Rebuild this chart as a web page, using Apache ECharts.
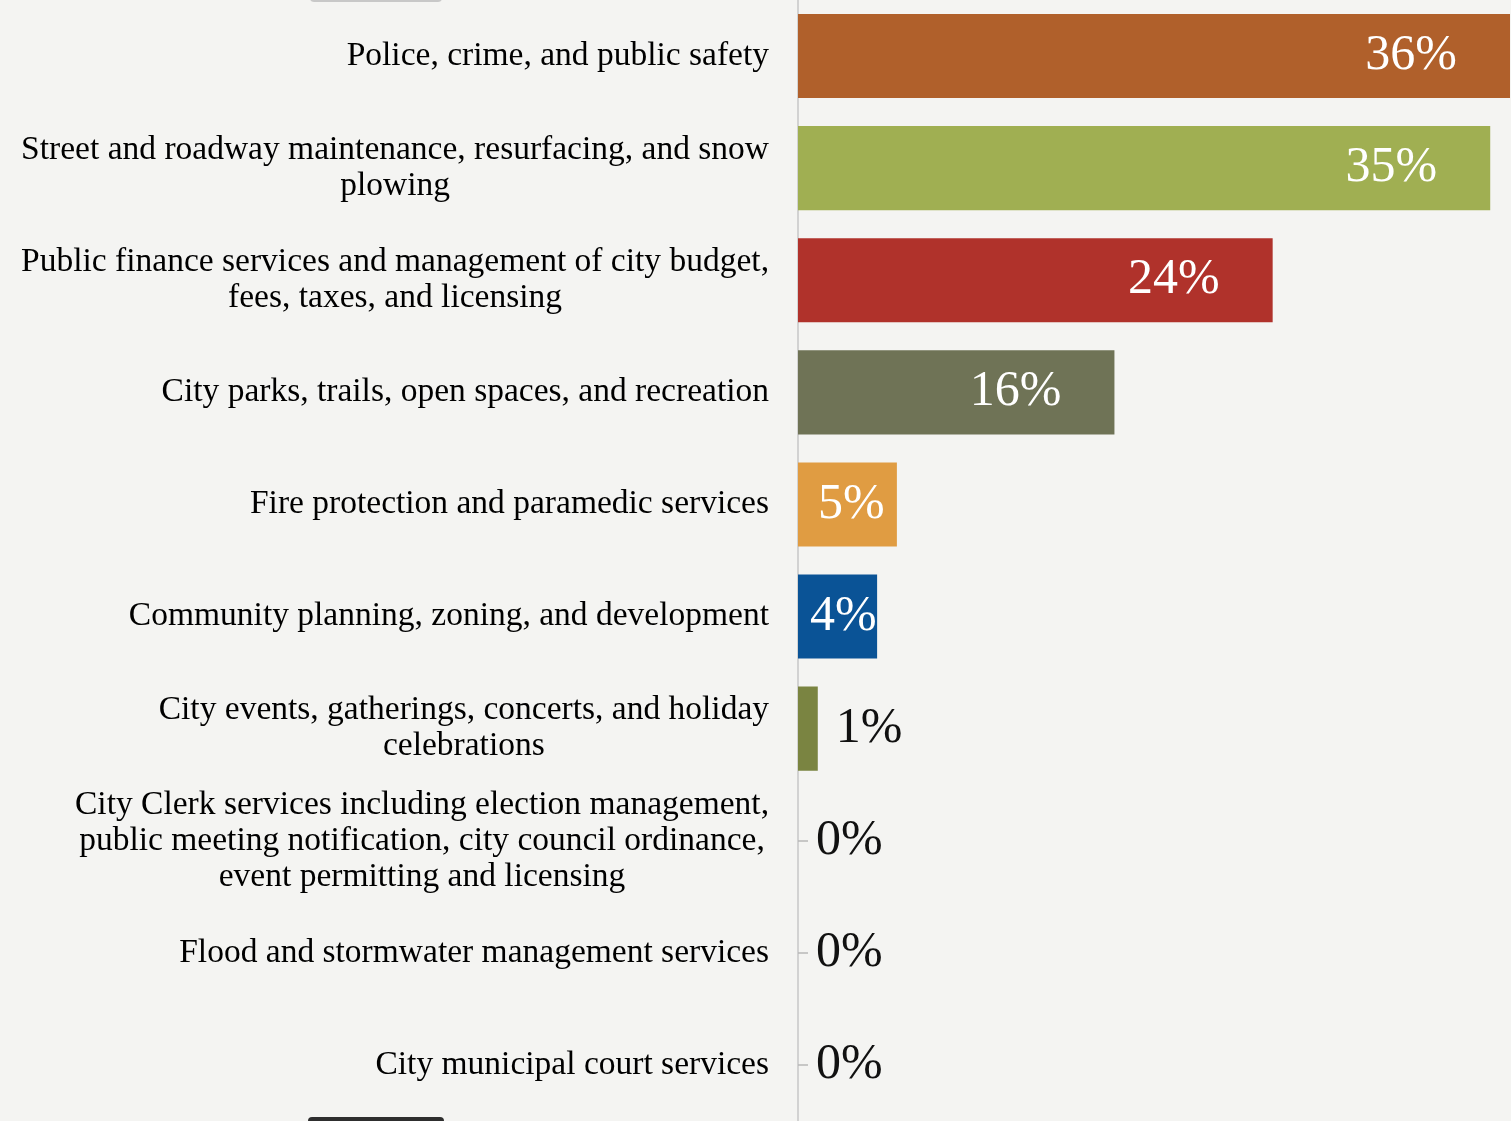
<!DOCTYPE html>
<html>
<head>
<meta charset="utf-8">
<script src="https://cdn.jsdelivr.net/npm/echarts@6/dist/echarts.min.js"></script>
<style>
html,body{margin:0;padding:0;background:#f4f4f2;}
#chart{width:1511px;height:1121px;}
</style>
</head>
<body>
<div id="chart"></div>
<script>
const categories = [
  "Police, crime, and public safety",
  "Street and roadway maintenance, resurfacing, and snow\nplowing",
  "Public finance services and management of city budget,\nfees, taxes, and licensing",
  "City parks, trails, open spaces, and recreation",
  "Fire protection and paramedic services",
  "Community planning, zoning, and development",
  "City events, gatherings, concerts, and holiday\ncelebrations",
  "City Clerk services including election management,\npublic meeting notification, city council ordinance,\nevent permitting and licensing",
  "Flood and stormwater management services",
  "City municipal court services"
];
const values = [36, 35, 24, 16, 5, 4, 1, 0, 0, 0];
const barColors = ["#B0602B", "#A0AF52", "#B0322B", "#6F7356", "#E09C42", "#0A5396", "#7A8441", "#7A8441", "#7A8441", "#7A8441"];

const serif = '"Liberation Serif", "DejaVu Serif", serif';

function labelFor(v) {
  if (v >= 10) return { show: true, position: 'insideRight', distance: 53, color: '#fff' };
  if (v >= 4) return { show: true, position: 'insideLeft', distance: v >= 5 ? 20 : 12, color: '#fff' };
  return { show: true, position: 'right', distance: 18, color: '#111' };
}

const data = values.map((v, i) => ({
  value: v,
  itemStyle: { color: barColors[i] },
  label: labelFor(v)
}));

const chart = echarts.init(document.getElementById('chart'));
chart.setOption({
  backgroundColor: '#f4f4f2',
  animation: false,
  grid: { left: 798, right: 1, top: -1.4, bottom: -4.6, containLabel: false },
  xAxis: {
    type: 'value', min: 0, max: 36,
    axisLine: { show: false }, axisTick: { show: false },
    axisLabel: { show: false }, splitLine: { show: false }
  },
  yAxis: {
    type: 'category', inverse: true, data: categories,
    axisLine: { show: true, lineStyle: { color: '#d2d2d2', width: 2 } },
    axisTick: { show: true, inside: true, alignWithLabel: true, length: 10, lineStyle: { color: '#b8b8b8', width: 1.5 } },
    axisLabel: {
      margin: 29,
      formatter: function (val) {
        return val.split('\n').map(l => '{c|' + l + '}').join('\n');
      },
      rich: {
        c: { align: 'center', fontFamily: serif, fontSize: 33.5, lineHeight: 36, color: '#000', fontWeight: 'normal' }
      }
    }
  },
  graphic: [
    { type: 'rect', left: 310, top: -6, shape: { width: 132, height: 8, r: 4 }, style: { fill: '#c8c8c8' }, silent: true },
    { type: 'rect', left: 308, top: 1117, shape: { width: 136, height: 10, r: 4 }, style: { fill: '#2e2e2e' }, silent: true }
  ],
  series: [{
    type: 'bar',
    data: data,
    barWidth: '75%',
    label: { fontFamily: serif, fontSize: 50, formatter: '{c}%' }
  }]
});
</script>
</body>
</html>
